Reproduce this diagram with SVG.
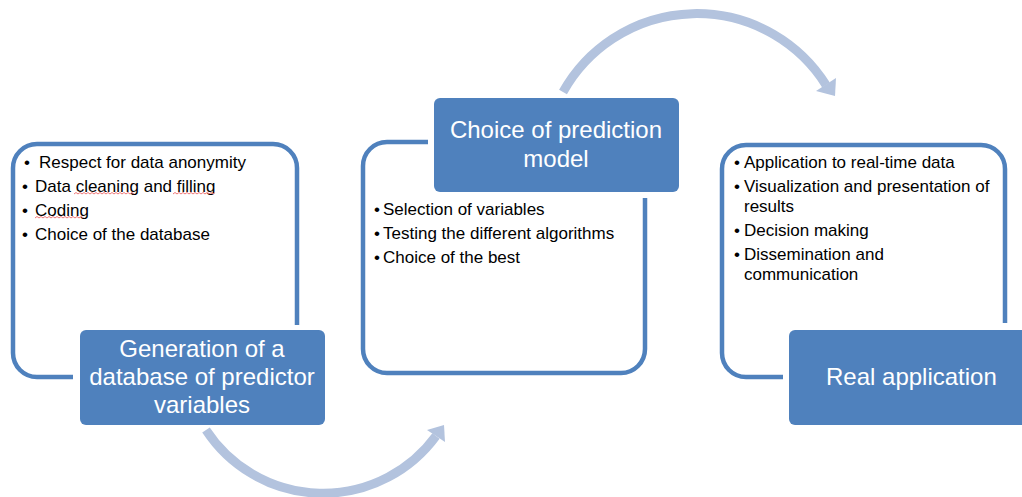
<svg xmlns="http://www.w3.org/2000/svg" width="1022" height="497" viewBox="0 0 1022 497">
  <style>
    .frame { fill: none; stroke: #4f81bd; stroke-width: 4.5; }
    .title-box { fill: #4f81bd; }
    .title { font-family: "Liberation Sans", Arial, sans-serif; font-size: 24px; fill: #ffffff; }
    .item { font-family: "Liberation Sans", Arial, sans-serif; font-size: 17px; fill: #000000; }
    .flow { fill: none; stroke: #b3c3de; stroke-width: 9; }
    .flow-head { fill: #b3c3de; }
    .spell { fill: none; stroke: #f07878; stroke-width: 1; }
  </style>

  <rect width="1022" height="497" fill="#ffffff"/>

  <!-- curved arrows linking the three stages -->
  <g id="connectors">
    <path class="flow" d="M 206 430 A 140 140 0 0 0 436 436"/>
    <polygon class="flow-head" points="444,425 445,442 427,430"/>
    <path class="flow" d="M 563 92 A 153 153 0 0 1 826 85"/>
    <polygon class="flow-head" points="835,96 836,78 816,91"/>
  </g>

  <!-- stage 1 -->
  <g id="node-database">
    <path class="frame" d="M 73 377 H 37 A 24 24 0 0 1 13 353 V 168 A 24 24 0 0 1 37 144 H 273 A 24 24 0 0 1 297 168 V 325"/>
    <text class="item" x="24" y="168">•</text>
    <text class="item" x="39" y="168">Respect for data anonymity</text>
    <text class="item" x="22" y="192">•</text>
    <text class="item" x="35" y="192">Data cleaning and filling</text>
    <text class="item" x="22" y="216">•</text>
    <text class="item" x="35" y="216">Coding</text>
    <text class="item" x="22" y="240">•</text>
    <text class="item" x="35" y="240">Choice of the database</text>
    <path class="spell" d="M 74 194 l 2 -1.5 l 2 1.5 l 2 -1.5 l 2 1.5 l 2 -1.5 l 2 1.5 l 2 -1.5 l 2 1.5 l 2 -1.5 l 2 1.5 l 2 -1.5 l 2 1.5 l 2 -1.5 l 2 1.5 l 2 -1.5 l 2 1.5 l 2 -1.5 l 2 1.5 l 2 -1.5 l 2 1.5 l 2 -1.5 l 2 1.5 l 2 -1.5 l 2 1.5 l 2 -1.5 l 2 1.5 l 2 -1.5 l 2 1.5 l 2 -1.5 l 2 1.5"/>
    <path class="spell" d="M 173 194 l 2 -1.5 l 2 1.5 l 2 -1.5 l 2 1.5 l 2 -1.5 l 2 1.5 l 2 -1.5 l 2 1.5 l 2 -1.5 l 2 1.5 l 2 -1.5 l 2 1.5 l 2 -1.5 l 2 1.5 l 2 -1.5 l 2 1.5 l 2 -1.5 l 2 1.5 l 2 -1.5 l 2 1.5 l 2 -1.5"/>
    <path class="spell" d="M 35 218 l 2 -1.5 l 2 1.5 l 2 -1.5 l 2 1.5 l 2 -1.5 l 2 1.5 l 2 -1.5 l 2 1.5 l 2 -1.5 l 2 1.5 l 2 -1.5 l 2 1.5 l 2 -1.5 l 2 1.5 l 2 -1.5 l 2 1.5 l 2 -1.5 l 2 1.5 l 2 -1.5 l 2 1.5 l 2 -1.5 l 2 1.5 l 2 -1.5 l 2 1.5"/>
    <rect class="title-box" x="80" y="330" width="245" height="95" rx="6"/>
    <text class="title" x="202" y="357" text-anchor="middle">Generation of a</text>
    <text class="title" x="202" y="385" text-anchor="middle">database of predictor</text>
    <text class="title" x="202" y="413" text-anchor="middle">variables</text>
  </g>

  <!-- stage 2 -->
  <g id="node-model">
    <path class="frame" d="M 428 142 H 387 A 24 24 0 0 0 363 166 V 349 A 24 24 0 0 0 387 373 H 621 A 24 24 0 0 0 645 349 V 198"/>
    <text class="item" x="374" y="215">•</text>
    <text class="item" x="383" y="215">Selection of variables</text>
    <text class="item" x="374" y="239">•</text>
    <text class="item" x="383" y="239">Testing the different algorithms</text>
    <text class="item" x="374" y="263">•</text>
    <text class="item" x="383" y="263">Choice of the best</text>
    <rect class="title-box" x="434" y="98" width="245" height="94" rx="6"/>
    <text class="title" x="556" y="138" text-anchor="middle">Choice of prediction</text>
    <text class="title" x="556" y="167" text-anchor="middle">model</text>
  </g>

  <!-- stage 3 -->
  <g id="node-application">
    <path class="frame" d="M 783 377 H 746 A 24 24 0 0 1 722 353 V 169 A 24 24 0 0 1 746 145 H 981 A 24 24 0 0 1 1005 169 V 323"/>
    <text class="item" x="734" y="168">•</text>
    <text class="item" x="744" y="168">Application to real-time data</text>
    <text class="item" x="734" y="192">•</text>
    <text class="item" x="744" y="192">Visualization and presentation of</text>
    <text class="item" x="744" y="212">results</text>
    <text class="item" x="734" y="236">•</text>
    <text class="item" x="744" y="236">Decision making</text>
    <text class="item" x="734" y="260">•</text>
    <text class="item" x="744" y="260">Dissemination and</text>
    <text class="item" x="744" y="280">communication</text>
    <rect class="title-box" x="789" y="330" width="242" height="95" rx="6"/>
    <text class="title" x="826" y="385">Real application</text>
  </g>
</svg>
